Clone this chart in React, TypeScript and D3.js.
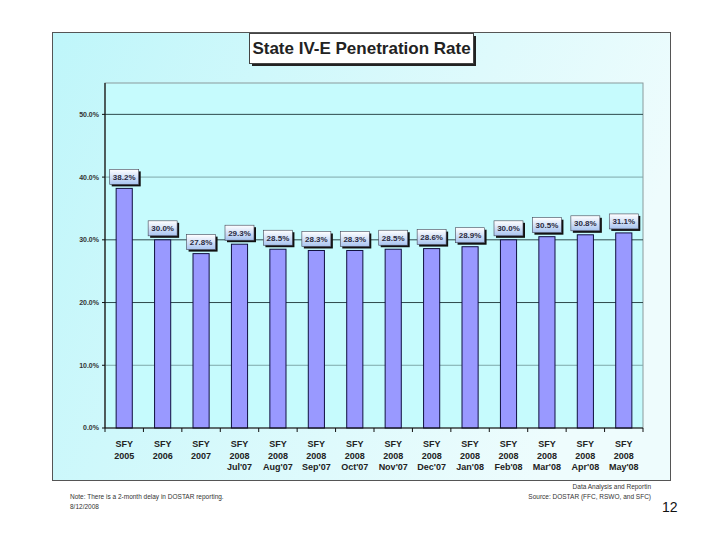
import * as d3 from "d3"

const categories = [
  ["SFY", "2005"],
  ["SFY", "2006"],
  ["SFY", "2007"],
  ["SFY", "2008", "Jul'07"],
  ["SFY", "2008", "Aug'07"],
  ["SFY", "2008", "Sep'07"],
  ["SFY", "2008", "Oct'07"],
  ["SFY", "2008", "Nov'07"],
  ["SFY", "2008", "Dec'07"],
  ["SFY", "2008", "Jan'08"],
  ["SFY", "2008", "Feb'08"],
  ["SFY", "2008", "Mar'08"],
  ["SFY", "2008", "Apr'08"],
  ["SFY", "2008", "May'08"],
]
const rates = [38.2, 30.0, 27.8, 29.3, 28.5, 28.3, 28.3, 28.5, 28.6, 28.9, 30.0, 30.5, 30.8, 31.1]
const yTicks = [0, 10, 20, 30, 40, 50]
const darkGrid = [50, 30, 20]

const W = 720
const H = 540
const plot = { left: 105, right: 643, top: 83, bottom: 428 }

const App = () => {
  const x = d3
    .scaleBand<number>()
    .domain(d3.range(categories.length))
    .range([plot.left, plot.right])
    .paddingInner(0)
  const y = d3.scaleLinear().domain([0, 55]).range([plot.bottom, plot.top])
  const barW = x.bandwidth() * 0.42
  const font = "Arial, 'Liberation Sans', sans-serif"

  return (
    <div style={{ position: "absolute", left: 0, top: 0 }}>
      <svg width={W} height={H} style={{ display: "block" }} fontFamily={font}>
        <defs>
          <linearGradient id="frameBg" x1="0" y1="0" x2="1" y2="0.3">
            <stop offset="0" stopColor="#bff6fa" />
            <stop offset="1" stopColor="#eefcfd" />
          </linearGradient>
          <linearGradient id="labelBg" x1="0" y1="0" x2="0" y2="1">
            <stop offset="0" stopColor="#ffffff" />
            <stop offset="1" stopColor="#a9c4f0" />
          </linearGradient>
        </defs>
        <rect x={0} y={0} width={W} height={H} fill="#ffffff" />
        {/* outer frame */}
        <rect x={52.5} y={32.5} width={618} height={448} fill="url(#frameBg)" stroke="#555" strokeWidth={1} />
        {/* plot area */}
        <rect
          x={plot.left}
          y={plot.top}
          width={plot.right - plot.left}
          height={plot.bottom - plot.top}
          fill="#c6fbfd"
          stroke="#8a9a9c"
          strokeWidth={1}
        />
        {/* grid */}
        {yTicks
          .filter((t) => t > 0)
          .map((t) => (
            <line
              key={t}
              x1={plot.left}
              x2={plot.right}
              y1={y(t)}
              y2={y(t)}
              stroke={darkGrid.includes(t) ? "#2e4a4c" : "#7fa8aa"}
              strokeWidth={1}
            />
          ))}
        {/* y axis */}
        <line x1={plot.left} x2={plot.left} y1={plot.top} y2={plot.bottom} stroke="#111" strokeWidth={1.2} />
        {yTicks.map((t) => (
          <g key={t}>
            <line x1={plot.left - 3} x2={plot.left} y1={y(t)} y2={y(t)} stroke="#111" />
            <text
              x={plot.left - 6}
              y={y(t)}
              dy="0.35em"
              textAnchor="end"
              fontSize={7}
              fontWeight="bold"
              fill="#333"
            >
              {t.toFixed(1)}%
            </text>
          </g>
        ))}
        {/* bars */}
        {rates.map((v, i) => {
          const cx = (x(i) as number) + x.bandwidth() / 2
          return (
            <rect
              key={i}
              x={cx - barW / 2}
              y={y(v)}
              width={barW}
              height={plot.bottom - y(v)}
              fill="#9999ff"
              stroke="#101040"
              strokeWidth={1}
            />
          )
        })}
        {/* x axis */}
        <line x1={plot.left} x2={plot.right} y1={plot.bottom} y2={plot.bottom} stroke="#111" strokeWidth={1.2} />
        {d3.range(categories.length + 1).map((i) => {
          const tx = i < categories.length ? (x(i) as number) : plot.right
          return <line key={i} x1={tx} x2={tx} y1={plot.bottom} y2={plot.bottom + 4} stroke="#111" />
        })}
        {categories.map((lines, i) => {
          const cx = (x(i) as number) + x.bandwidth() / 2
          return (
            <text key={i} x={cx} y={447} textAnchor="middle" fontSize={9} fontWeight="bold" fill="#222">
              {lines.map((l, j) => (
                <tspan key={j} x={cx} dy={j === 0 ? 0 : 11.5}>
                  {l}
                </tspan>
              ))}
            </text>
          )
        })}
        {/* value labels */}
        {rates.map((v, i) => {
          const cx = (x(i) as number) + x.bandwidth() / 2
          const bw = 29
          const bh = 15
          const by = y(v) - bh - 4
          return (
            <g key={i}>
              <rect x={cx - bw / 2 + 2} y={by + 2} width={bw} height={bh} fill="#111" />
              <rect x={cx - bw / 2} y={by} width={bw} height={bh} fill="url(#labelBg)" stroke="#445" strokeWidth={0.6} />
              <text
                x={cx}
                y={by + bh / 2}
                dy="0.35em"
                textAnchor="middle"
                fontSize={8}
                fontWeight="bold"
                fill="#2a2a40"
              >
                {v.toFixed(1)}%
              </text>
            </g>
          )
        })}
        {/* title */}
        <rect x={252} y={36} width={224} height={30} fill="#222" />
        <rect x={249.5} y={33.5} width={224} height={30} fill="#ffffff" stroke="#444" strokeWidth={1} />
        <text x={361.5} y={48.5} dy="0.35em" textAnchor="middle" fontSize={17} fontWeight="bold" fill="#222">
          State IV-E Penetration Rate
        </text>
        {/* footer */}
        <text x={70} y={499} fontSize={6.5} fill="#333">
          Note: There is a 2-month delay in DOSTAR reporting.
        </text>
        <text x={70} y={509} fontSize={6.5} fill="#333">
          8/12/2008
        </text>
        <text x={651} y={489} textAnchor="end" fontSize={6.5} fill="#333">
          Data Analysis and Reportin
        </text>
        <text x={651} y={499} textAnchor="end" fontSize={6.5} fill="#333">
          Source: DOSTAR (FFC, RSWO, and SFC)
        </text>
        <text x={662} y={512} fontSize={14} fill="#111">
          12
        </text>
      </svg>
    </div>
  )
}

export default App
